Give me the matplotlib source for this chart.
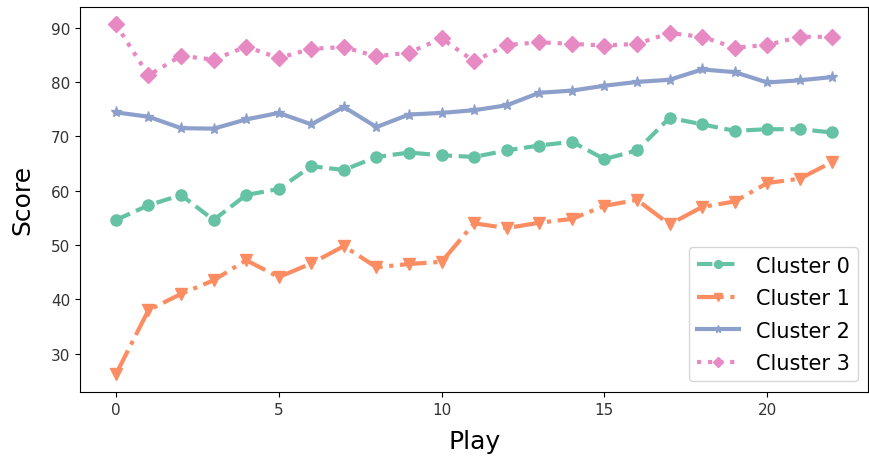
import numpy as np
import matplotlib
matplotlib.use('Agg')
import matplotlib.pyplot as plt

play = np.arange(23)

cluster0 = [54.6, 57.3, 59.2, 54.6, 59.2, 60.3, 64.5, 63.8, 66.2, 67.0, 66.5, 66.2,
            67.4, 68.3, 69.0, 65.8, 67.4, 73.4, 72.2, 71.0, 71.3, 71.3, 70.7]
cluster1 = [26.2, 38.0, 41.0, 43.5, 47.2, 44.1, 46.6, 49.8, 45.9, 46.5, 46.9, 54.0,
            53.1, 54.1, 54.8, 57.2, 58.3, 53.8, 57.0, 58.0, 61.4, 62.2, 65.3]
cluster2 = [74.4, 73.6, 71.5, 71.4, 73.1, 74.3, 72.2, 75.4, 71.7, 74.0, 74.3, 74.8,
            75.7, 78.0, 78.4, 79.3, 80.0, 80.4, 82.3, 81.8, 79.9, 80.3, 80.9]
cluster3 = [90.6, 81.2, 84.8, 84.1, 86.5, 84.4, 86.1, 86.4, 84.7, 85.4, 88.0, 83.8,
            86.8, 87.3, 87.0, 86.7, 87.0, 89.0, 88.3, 86.3, 86.8, 88.3, 88.3]

labels = ['Cluster 0', 'Cluster 1', 'Cluster 2', 'Cluster 3']
colors = ['#66c2a5', '#fc8d62', '#8da0cb', '#e78ac3']
styles = ['--', '-.', '-', ':']
markers = ['o', 'v', '*', 'D']

fig = plt.figure(figsize=(8.7, 4.6), dpi=100)
ax = fig.add_axes([0.092, 0.146, 0.906, 0.837])

for ys, lab, c, ls, m in zip([cluster0, cluster1, cluster2, cluster3], labels, colors, styles, markers):
    ax.plot(play, ys, color=c, linestyle=ls, marker=m, lw=3, markersize=8, label=lab)

ax.tick_params(labelsize=11, labelcolor='#333333')
ax.set_xlabel('Play', size=18, labelpad=9)
ax.set_ylabel('Score', size=18, labelpad=12)
ax.legend(loc='lower right', fontsize=15, markerscale=0.7, labelspacing=0.6)

fig.savefig('out.png')
